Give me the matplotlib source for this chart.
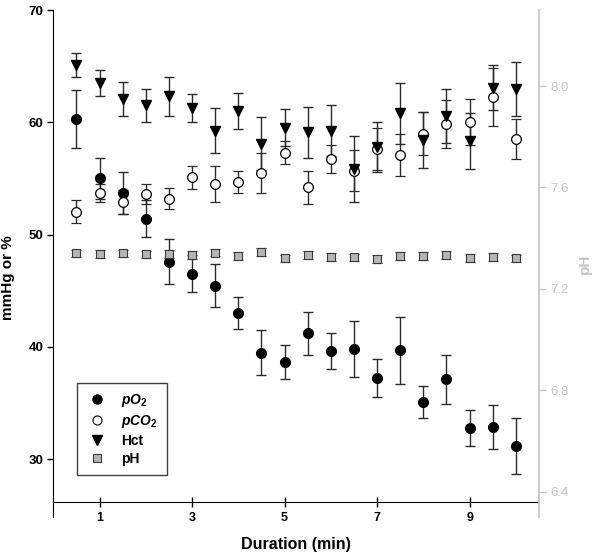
import matplotlib
matplotlib.use("Agg")
import matplotlib.pyplot as plt
from matplotlib.lines import Line2D
from matplotlib.ticker import FormatStrFormatter

plt.rcParams['font.family'] = ['Liberation Sans', 'DejaVu Sans']
plt.rcParams['mathtext.fontset'] = 'custom'
plt.rcParams['mathtext.it'] = 'Liberation Sans:italic:bold'
plt.rcParams['mathtext.rm'] = 'Liberation Sans:bold'
plt.rcParams['mathtext.bf'] = 'Liberation Sans:bold'

# data
minutes = [0.5, 1, 1.5, 2, 2.5, 3, 3.5, 4, 4.5, 5,
           5.5, 6, 6.5, 7, 7.5, 8, 8.5, 9, 9.5, 10]
po2 = [60.3, 55.0, 53.7, 51.4, 47.6, 46.5, 45.45, 43.0, 39.5, 38.65,
       41.2, 39.6, 39.8, 37.25, 39.7, 35.1, 37.1, 32.75, 32.9, 31.2]
po2_err = [2.6, 1.8, 1.9, 1.65, 2.0, 1.65, 1.9, 1.45, 2.0, 1.5,
           1.95, 1.6, 2.5, 1.7, 3.0, 1.4, 2.2, 1.6, 1.95, 2.5]
pco2 = [52.05, 53.7, 52.9, 53.6, 53.2, 55.1, 54.5, 54.7, 55.5, 57.3,
        54.2, 56.7, 55.7, 57.6, 57.1, 59.0, 59.85, 60.05, 62.25, 58.5]
pco2_err = [1.0, 0.8, 1.1, 0.9, 0.95, 1.0, 1.6, 1.0, 1.8, 1.05,
            1.5, 1.25, 1.8, 1.85, 1.9, 1.9, 2.1, 2.05, 2.55, 1.8]
hct = [65.1, 63.5, 62.1, 61.5, 62.3, 61.3, 59.25, 61.0, 58.1, 59.5,
       59.1, 59.25, 55.85, 57.8, 60.8, 58.4, 60.6, 58.3, 63.1, 62.95]
hct_err = [1.1, 1.2, 1.5, 1.5, 1.75, 1.25, 2.0, 1.6, 2.35, 1.65,
           2.3, 2.25, 2.95, 2.2, 2.7, 2.5, 2.4, 2.5, 2.0, 2.4]
ph = [7.340, 7.337, 7.340, 7.336, 7.337, 7.333, 7.343, 7.330, 7.346, 7.320,
      7.333, 7.326, 7.324, 7.317, 7.329, 7.329, 7.333, 7.322, 7.326, 7.320]
ph_err = [0.015] * 20

light = '#c4c4c4'
ebar = dict(capsize=3.6, elinewidth=1.0, capthick=1.0, ecolor='#2a2a2a', linestyle='none')

fig = plt.figure(figsize=(6, 5.57), dpi=100)
ax = fig.add_axes([0.0889, 0.0718, 0.8094, 0.9102])

ax.errorbar(minutes, po2, yerr=po2_err, marker='o', ms=7, mfc='black', mec='black', **ebar)
ax.errorbar(minutes, pco2, yerr=pco2_err, marker='o', ms=7, mfc='white', mec='black', mew=0.9, **ebar)
ax.errorbar(minutes, hct, yerr=hct_err, marker='v', ms=7.5, mfc='black', mec='black', **ebar)

ax.set_xlim(0, 10.5)
ax.set_ylim(24.85, 70)
ax.spines['top'].set_visible(False)
ax.spines['right'].set_visible(False)
ax.spines['bottom'].set_position(('axes', 15 / 507))
ax.set_xticks([1, 3, 5, 7, 9])
ax.set_yticks([30, 40, 50, 60, 70])
ax.tick_params(axis='x', direction='inout', length=7, width=1, labelsize=9, pad=4)
ax.tick_params(axis='y', direction='out', length=4, width=1, labelsize=9.5, pad=3)
for lab in ax.get_xticklabels() + ax.get_yticklabels():
    lab.set_fontweight('bold')
ax.set_xlabel('Duration (min)', fontsize=11.5, fontweight='bold', labelpad=9)
ax.set_ylabel('mmHg or %', fontsize=11, fontweight='bold')
ax.yaxis.set_label_coords(-0.079, 0.473)

ax2 = ax.twinx()
ax2.errorbar(minutes, ph, yerr=ph_err, marker='s', ms=6, mfc='#b5b5b5', mec='#3a3a3a', mew=0.8, **ebar)
ax2.set_ylim(6.3, 8.3)
ax2.set_yticks([6.4, 6.8, 7.2, 7.6, 8.0])
ax2.yaxis.set_major_formatter(FormatStrFormatter('%.1f'))
for s in ['top', 'left', 'bottom']:
    ax2.spines[s].set_visible(False)
ax2.spines['right'].set_color(light)
ax2.spines['right'].set_linewidth(1.2)
ax2.tick_params(axis='y', direction='out', length=5, width=1, color=light, labelcolor=light, labelsize=9.5)
ax2.set_ylabel('pH', color=light, fontsize=11, fontweight='bold', labelpad=6)

handles = [
    Line2D([], [], ls='none', marker='o', ms=6.5, mfc='black', mec='black'),
    Line2D([], [], ls='none', marker='o', ms=6.5, mfc='white', mec='black', mew=0.8),
    Line2D([], [], ls='none', marker='v', ms=6.5, mfc='black', mec='black'),
    Line2D([], [], ls='none', marker='s', ms=5.5, mfc='#b5b5b5', mec='#3a3a3a', mew=0.8),
]
labels = ['$pO_2$', '$pCO_2$', 'Hct', 'pH']
leg = ax2.legend(handles, labels, loc='lower left', bbox_to_anchor=(0.0488, 0.0828),
                 borderaxespad=0, fancybox=False, framealpha=1, edgecolor='#404040',
                 prop={'weight': 'bold', 'size': 10}, handletextpad=0.9,
                 labelspacing=0.28, borderpad=0.65, handlelength=1.6)
leg.get_frame().set_linewidth(1.0)

fig.savefig('out.png', dpi=100)
